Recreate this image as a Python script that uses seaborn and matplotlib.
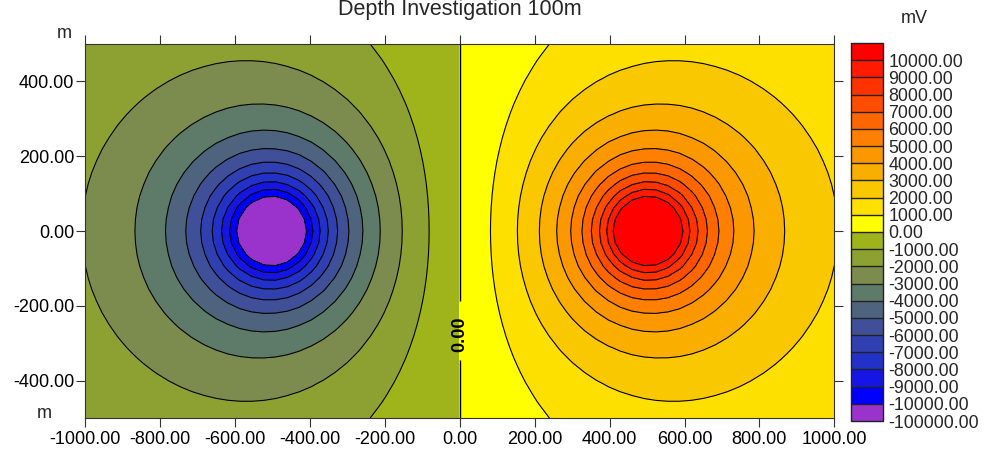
import numpy as np
import matplotlib
matplotlib.use("Agg")
import matplotlib.pyplot as plt
import seaborn as sns

# --- data ---
title = "Depth Investigation 100m"
source_x = [-500.0, 500.0]       # m, horizontal position of the two electrodes
source_sign = [-1.0, 1.0]
depth = 100.0                    # m
amplitude = 1.58e6               # mV*m, fitted to the contour radii

neg_levels = [-100000, -10000, -9000, -8000, -7000, -6000, -5000, -4000, -3000, -2000, -1000]
pos_levels = [0, 1000, 2000, 3000, 4000, 5000, 6000, 7000, 8000, 9000, 10000]
top_level = 100000

neg_colors = ["#9933CC", "#0000FF", "#1616E4", "#2232C8", "#3040B0", "#3F4F98",
              "#4E647E", "#5E7B69", "#7C8C4E", "#8DA132", "#9FB31B"]
pos_colors = ["#FFFF00", "#FDE000", "#FAC800", "#F9AE00", "#FB9800", "#FF8000",
              "#FF6600", "#FF4D00", "#FF3300", "#FF1A00", "#FF0000"]

x_ticks = [-1000, -800, -600, -400, -200, 0, 200, 400, 600, 800, 1000]
y_ticks = [-400, -200, 0, 200, 400]

zero_label_y = -275.0
zero_gap = (-333.0, -218.0)

sns.set_theme(style="white")
plt.rcParams["font.family"] = ["Liberation Sans", "DejaVu Sans"]
plt.rcParams["contour.negative_linestyle"] = "solid"

levels = neg_levels + pos_levels + [top_level]
colors = sns.color_palette(neg_colors + pos_colors)

# potential of two point sources at depth
gx = np.linspace(-1000, 1000, 64)
gy = np.linspace(-500, 500, 33)
X, Y = np.meshgrid(gx, gy)
V = np.zeros_like(X)
for sx, s in zip(source_x, source_sign):
    V += s * amplitude / np.sqrt((X - sx) ** 2 + Y ** 2 + depth ** 2)

fig = plt.figure(figsize=(9.88, 4.55), dpi=100)
ax = fig.add_axes([85.3 / 988, 37 / 455, 749 / 988, 374 / 455])
cax = fig.add_axes([851 / 988, 34 / 455, 32 / 988, 378 / 455])

cf = ax.contourf(X, Y, V, levels=levels, colors=colors)
line_levels = [l for l in levels[1:-1] if l != 0]
ax.contour(X, Y, V, levels=line_levels, colors="black", linewidths=0.8,
           linestyles="solid")

# zero line, broken where its label sits
zero = ax.contour(X, Y, V, levels=[0], linewidths=0)
for p in zero.get_paths():
    vx, vy = p.vertices[:, 0], p.vertices[:, 1]
    for m in (vy >= zero_gap[1], vy <= zero_gap[0]):
        if m.any():
            ax.plot(vx[m], vy[m], color="black", lw=1.0, zorder=5,
                    solid_capstyle="butt")
ax.text(0, zero_label_y, "0.00", rotation=90, ha="center", va="center",
        fontsize=13, fontweight="bold", color="black", zorder=6)

ax.set_xlim(-1000, 1000)
ax.set_ylim(-500, 500)
ax.set_xticks(x_ticks)
ax.set_yticks(y_ticks)
ax.set_xticklabels([f"{v:.2f}" for v in x_ticks])
ax.set_yticklabels([f"{v:.2f}" for v in y_ticks])
ax.tick_params(axis="both", which="both", direction="out", length=6.5, width=0.8,
               color="#333333", labelsize=13, labelcolor="black",
               top=True, right=True, left=True, bottom=True)
ax.tick_params(axis="y", pad=1.5)
ax.tick_params(axis="x", pad=3)
for sp in ax.spines.values():
    sp.set_color("#333333")
    sp.set_linewidth(0.8)

cb = fig.colorbar(cf, cax=cax, ticks=levels[:-1], drawedges=True)
cb.ax.set_yticklabels([f"{v:.2f}" for v in levels[:-1]])
cb.ax.tick_params(length=0, labelsize=12.8, pad=4)
cb.dividers.set_color("#222222")
cb.dividers.set_linewidth(1.0)
cb.outline.set_edgecolor("#222222")
cb.outline.set_linewidth(1.0)

fig.text(459.5 / 988, 1 - 14.5 / 455, title, ha="center", va="baseline", fontsize=15.5)
fig.text(64 / 988, 1 - 38 / 455, "m", ha="center", va="baseline", fontsize=13)
fig.text(44 / 988, 1 - 418 / 455, "m", ha="center", va="baseline", fontsize=13)
fig.text(914.5 / 988, 1 - 23 / 455, "mV", ha="center", va="baseline", fontsize=13)

fig.savefig("out.png", dpi=100)
